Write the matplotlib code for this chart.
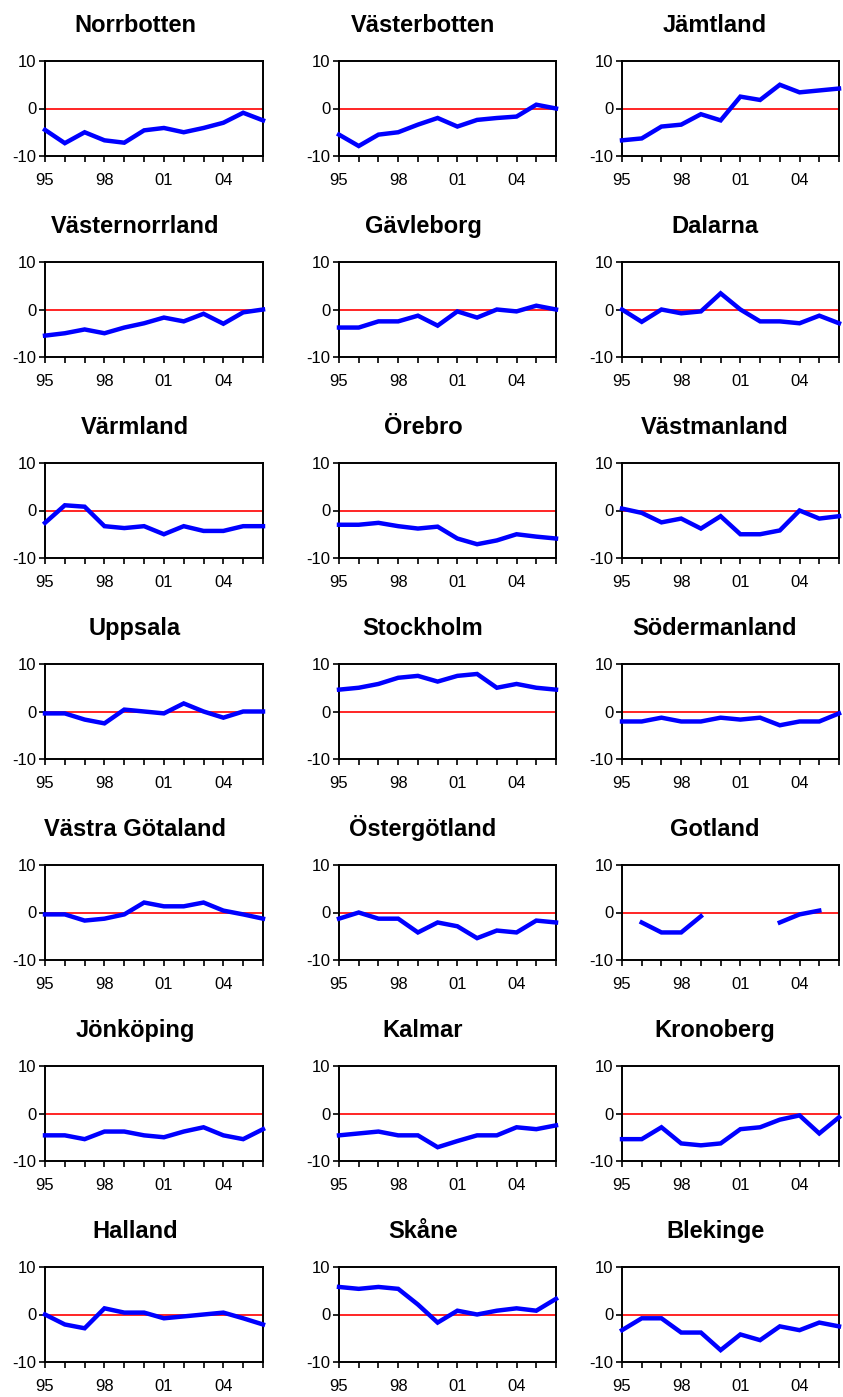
import numpy as np
import matplotlib
matplotlib.use("Agg")
import matplotlib.pyplot as plt

plt.rcParams['font.family'] = ['Liberation Sans', 'DejaVu Sans']
plt.rcParams['axes.unicode_minus'] = False

# Years 1995-2006
years = ['95', '96', '97', '98', '99', '00', '01', '02', '03', '04', '05', '06']
label_years = ['95', '98', '01', '04']

nan = np.nan
norrbotten = [-4.5, -7.3, -5.0, -6.7, -7.2, -4.6, -4.1, -5.0, -4.1, -3.0, -0.9, -2.5]
vasterbotten = [-5.5, -7.9, -5.5, -5.0, -3.4, -2.0, -3.8, -2.4, -2.0, -1.7, 0.8, 0.0]
jamtland = [-6.7, -6.3, -3.8, -3.4, -1.2, -2.5, 2.5, 1.8, 5.0, 3.4, 3.8, 4.2]
vasternorrland = [-5.5, -5.0, -4.2, -5.0, -3.8, -2.9, -1.7, -2.5, -0.9, -3.0, -0.6, 0.0]
gavleborg = [-3.8, -3.8, -2.5, -2.5, -1.3, -3.4, -0.4, -1.7, 0.0, -0.4, 0.8, 0.0]
dalarna = [0.0, -2.6, 0.0, -0.8, -0.4, 3.4, 0.0, -2.5, -2.5, -2.9, -1.3, -2.9]
varmland = [-2.6, 1.1, 0.8, -3.3, -3.7, -3.3, -5.0, -3.3, -4.3, -4.3, -3.3, -3.3]
orebro = [-3.0, -3.0, -2.6, -3.3, -3.8, -3.4, -5.9, -7.1, -6.3, -5.0, -5.5, -5.9]
vastmanland = [0.4, -0.5, -2.5, -1.7, -3.8, -1.2, -5.0, -5.0, -4.2, 0.0, -1.7, -1.2]
uppsala = [-0.4, -0.4, -1.7, -2.5, 0.4, 0.0, -0.4, 1.7, 0.0, -1.3, 0.0, 0.0]
stockholm = [4.6, 5.0, 5.8, 7.1, 7.5, 6.3, 7.5, 7.9, 5.0, 5.8, 5.0, 4.6]
sodermanland = [-2.1, -2.1, -1.3, -2.1, -2.1, -1.3, -1.7, -1.3, -2.9, -2.1, -2.1, -0.4]
vastra_gotaland = [-0.4, -0.4, -1.7, -1.3, -0.4, 2.1, 1.3, 1.3, 2.1, 0.4, -0.4, -1.3]
ostergotland = [-1.3, 0.0, -1.3, -1.3, -4.2, -2.1, -2.9, -5.4, -3.8, -4.2, -1.7, -2.1]
gotland = [nan, -2.1, -4.2, -4.2, -0.8, nan, nan, nan, -2.1, -0.4, 0.4, nan]
jonkoping = [-4.6, -4.6, -5.4, -3.8, -3.8, -4.6, -5.0, -3.8, -2.9, -4.6, -5.4, -3.3]
kalmar = [-4.6, -4.2, -3.8, -4.6, -4.6, -7.1, -5.8, -4.6, -4.6, -2.9, -3.3, -2.5]
kronoberg = [-5.4, -5.4, -2.9, -6.3, -6.7, -6.3, -3.3, -2.9, -1.3, -0.4, -4.2, -0.8]
halland = [0.0, -2.1, -2.9, 1.3, 0.4, 0.4, -0.8, -0.4, 0.0, 0.4, -0.8, -2.1]
skane = [5.8, 5.4, 5.8, 5.4, 2.1, -1.7, 0.8, 0.0, 0.8, 1.3, 0.8, 3.3]
blekinge = [-3.3, -0.8, -0.8, -3.8, -3.8, -7.5, -4.2, -5.4, -2.5, -3.3, -1.7, -2.5]

counties = [
    ('Norrbotten', norrbotten), ('Västerbotten', vasterbotten), ('Jämtland', jamtland),
    ('Västernorrland', vasternorrland), ('Gävleborg', gavleborg), ('Dalarna', dalarna),
    ('Värmland', varmland), ('Örebro', orebro), ('Västmanland', vastmanland),
    ('Uppsala', uppsala), ('Stockholm', stockholm), ('Södermanland', sodermanland),
    ('Västra Götaland', vastra_gotaland), ('Östergötland', ostergotland), ('Gotland', gotland),
    ('Jönköping', jonkoping), ('Kalmar', kalmar), ('Kronoberg', kronoberg),
    ('Halland', halland), ('Skåne', skane), ('Blekinge', blekinge),
]

W, H = 843, 1397
fig = plt.figure(figsize=(W / 100, H / 100), dpi=100)

# panel geometry in pixels
col_left = [45, 339, 622]
col_right = [263, 556, 839]
title_x = [135, 423, 715]
row_top0 = 61
row_step = 201
panel_h = 95

x = np.arange(len(years))
for i, (name, vals) in enumerate(counties):
    r, c = divmod(i, 3)
    top = row_top0 + r * row_step
    left = col_left[c]
    w = col_right[c] - left
    ax = fig.add_axes([left / W, 1 - (top + panel_h) / H, w / W, panel_h / H])
    ax.axhline(0, color='#ff0000', lw=1.2, zorder=2)
    ax.plot(x, vals, color='#0000ff', lw=3.2, zorder=3, clip_on=False,
            solid_joinstyle='miter')
    ax.set_xlim(0, len(years) - 1)
    ax.set_ylim(-10, 10)
    ax.set_yticks([-10, 0, 10])
    ax.set_yticklabels(['-10', '0', '10'])
    ax.set_xticks(x)
    ax.set_xticklabels([y if y in label_years else '' for y in years])
    ax.tick_params(direction='out', length=4, width=1.2, labelsize=12,
                   colors='black')
    ax.tick_params(axis='x', pad=8)
    ax.tick_params(axis='y', pad=2)
    for s in ax.spines.values():
        s.set_linewidth(1.4)
        s.set_color('black')
    fig.text(title_x[c] / W, 1 - (top - 29) / H, name, ha='center', va='baseline',
             fontsize=17, fontweight='bold')

fig.savefig('out.png', dpi=100, facecolor='white')
